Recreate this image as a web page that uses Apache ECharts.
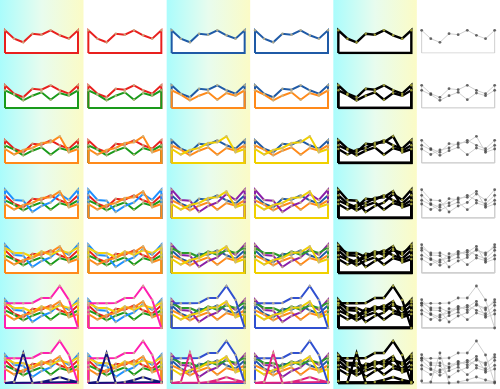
<!DOCTYPE html>
<html><head><meta charset="utf-8">
<script src="https://cdn.jsdelivr.net/npm/echarts@6/dist/echarts.min.js"></script>
<style>html,body{margin:0;padding:0;background:#fff}#c{width:500px;height:389px}</style>
</head><body><div id="c"></div>
<script>
// x positions (point index) for each series
const xIndex = [0, 1, 2, 3, 4, 5, 6, 7, 8];
// series values (one added per row)
const seriesA = [22.7, 14.3, 10.7, 19.3, 18.3, 22.7, 17.7, 14.3, 22.7];
const seriesB = [17.7, 13.3, 7.7, 12.3, 15.7, 8.3, 15, 12.3, 17.7];
const seriesC = [14, 8.5, 13, 15, 20, 20.7, 26.7, 10.7, 14];
const seriesD = [28.3, 18, 17.3, 6, 12, 15.5, 24, 18, 28.3];
const seriesE = [25, 20, 20, 16, 21.7, 18, 22.7, 20, 25.7];
const seriesF = [24.7, 24.7, 24.7, 25, 30, 30, 42, 28, 0];
const seriesG = [2, 1, 30, 0, 1, 3, 6, 3, 1];
const allSeries = [seriesA, seriesB, seriesC, seriesD, seriesE, seriesF, seriesG];
// draw order (later drawn on top)
const drawOrder = [0, 1, 3, 4, 2, 5, 6];

// colour palettes per column
const paletteWarm = ['#e8201e', '#1a9a1a', '#ff8a1a', '#1e90ff', '#f5d50a', '#ff1fb0', '#12127a'];
const paletteCool = ['#1f5aa6', '#ff8a1a', '#f0d000', '#8b1fa8', '#2a9a2a', '#3050d0', '#e0207f'];
const paletteBlack = ['#000', '#000', '#000', '#000', '#000', '#000', '#000'];
const paletteGray = ['#cfcfcf', '#cfcfcf', '#cfcfcf', '#cfcfcf', '#cfcfcf', '#cfcfcf', '#cfcfcf'];
const columns = [
  { pal: paletteWarm, lw: 2, dot: '#c9b98a', ds: 2.5 },
  { pal: paletteWarm, lw: 2, dot: '#c9b98a', ds: 2.5 },
  { pal: paletteCool, lw: 2, dot: '#c9b98a', ds: 2.5 },
  { pal: paletteCool, lw: 2, dot: '#c9b98a', ds: 2.5 },
  { pal: paletteBlack, lw: 2.4, dot: '#b8b840', ds: 2.5 },
  { pal: paletteGray, lw: 1, dot: '#444', ds: 2.8 }
];

const grids = [], xAxes = [], yAxes = [], series = [];
const cellW = 73, cellH = 45;
let gi = 0;
for (let r = 0; r < 7; r++) {
  for (let c = 0; c < 6; c++) {
    const bottomY = 53 + 55 * r;
    grids.push({ left: 5 + 83.333 * c, top: bottomY - cellH, width: cellW, height: cellH });
    xAxes.push({ gridIndex: gi, type: 'value', min: 0, max: 8, show: false });
    yAxes.push({ gridIndex: gi, type: 'value', min: 0, max: cellH, show: false });
    const col = columns[c];
    const n = r + 1;
    const order = drawOrder.filter(k => k < n);
    order.forEach((k, oi) => {
      const vals = allSeries[k];
      const pts = xIndex.map((x, i) => [x, vals[i]]);
      series.push({
        type: 'line', xAxisIndex: gi, yAxisIndex: gi, data: pts, showSymbol: false,
        lineStyle: { width: 0 }, areaStyle: { color: '#fff', opacity: 1 }, z: 1, silent: true, animation: false
      });
      const poly = [[xIndex[0], 0]].concat(pts, [[xIndex[xIndex.length - 1], 0], [xIndex[0], 0]]);
      series.push({
        type: 'line', xAxisIndex: gi, yAxisIndex: gi, data: poly, showSymbol: false,
        lineStyle: { width: col.lw, color: col.pal[k], join: 'miter' }, z: 2 + oi, silent: true, animation: false
      });
      series.push({
        type: 'scatter', xAxisIndex: gi, yAxisIndex: gi, data: pts, symbolSize: col.ds,
        itemStyle: { color: col.dot }, z: 20, silent: true, animation: false
      });
    });
    gi++;
  }
}

function band(x) {
  return {
    type: 'rect', left: x, top: 0, z: -10, silent: true,
    shape: { width: 83.5, height: 389 },
    style: {
      fill: new echarts.graphic.LinearGradient(0, 0, 1, 0, [
        { offset: 0, color: '#aafcfc' }, { offset: 0.5, color: '#e8fcee' }, { offset: 1, color: '#fbfbc6' }
      ])
    }
  };
}

const chart = echarts.init(document.getElementById('c'), null, { renderer: 'canvas' });
chart.setOption({
  backgroundColor: '#fff',
  animation: false,
  graphic: [band(0), band(166.67), band(333.33)],
  grid: grids, xAxis: xAxes, yAxis: yAxes, series: series
});
</script></body></html>
